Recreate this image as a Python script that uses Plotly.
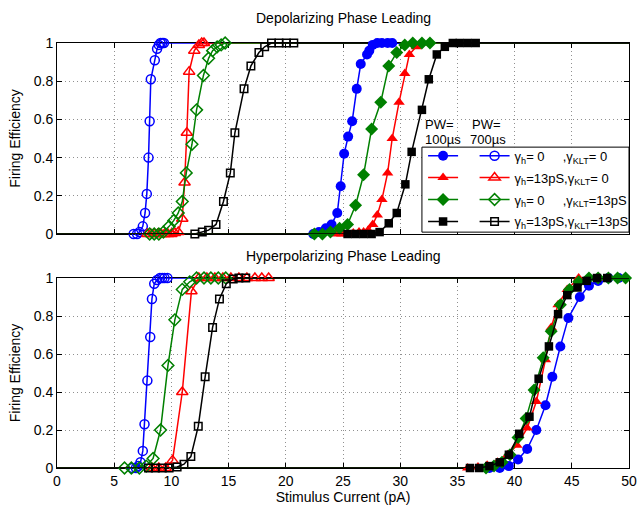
import plotly.graph_objects as go

X_MIN, X_MAX = 0, 50

# ---------------- Depolarizing Phase Leading (top) ----------------
# PW = 700 us (open markers)
dep700_blue_x = [6.7, 7.0, 7.2, 7.5, 7.7, 7.85, 8.0, 8.1, 8.2, 8.55, 8.75, 8.9, 9.05, 9.2, 9.35]
dep700_blue_y = [0, 0, 0.01, 0.04, 0.11, 0.21, 0.40, 0.59, 0.81, 0.91, 0.97, 0.99, 1, 1, 1]
dep700_red_x = [7.9, 8.2, 8.5, 8.8, 9.1, 9.4, 9.7, 10.0, 10.3, 10.6, 10.95, 11.15, 11.35, 11.55, 12.0, 12.4, 12.65, 12.85]
dep700_red_y = [0, 0, 0, 0, 0, 0, 0, 0, 0.005, 0.01, 0.08, 0.27, 0.53, 0.85, 0.96, 0.99, 1, 1]
dep700_green_x = [8.1, 8.5, 8.9, 9.3, 9.8, 10.2, 10.6, 10.95, 11.3, 11.8, 12.2, 12.8, 13.25, 13.6, 14.0, 14.35, 14.7]
dep700_green_y = [0, 0, 0, 0.01, 0.04, 0.07, 0.11, 0.17, 0.32, 0.47, 0.65, 0.83, 0.92, 0.96, 0.98, 0.99, 1]
dep700_black_x = [12.05, 12.7, 13.25, 13.9, 14.55, 15.15, 15.55, 16.35, 16.95, 17.65, 18.15, 18.75, 19.4, 20.05, 20.7]
dep700_black_y = [0, 0.01, 0.02, 0.05, 0.17, 0.32, 0.53, 0.76, 0.88, 0.95, 0.98, 1, 1, 1, 1]
# PW = 100 us (filled markers)
dep100_blue_x = [22.4, 22.9, 23.5, 24.0, 24.5, 24.8, 25.1, 25.45, 25.8, 26.2, 26.55, 27.1, 27.3, 27.6, 28.0, 28.4, 28.9, 29.3]
dep100_blue_y = [0, 0.01, 0.03, 0.05, 0.11, 0.25, 0.42, 0.51, 0.59, 0.76, 0.89, 0.94, 0.96, 0.99, 1, 1, 1, 1]
dep100_red_x = [24.4, 24.9, 25.4, 25.9, 26.4, 26.8, 27.2, 27.6, 28.0, 28.4, 28.9, 29.3, 29.9, 30.4, 30.8, 31.4, 31.9]
dep100_red_y = [0, 0, 0, 0.005, 0.01, 0.01, 0.02, 0.05, 0.10, 0.18, 0.32, 0.50, 0.69, 0.84, 0.94, 0.98, 1]
dep100_green_x = [22.5, 23.2, 23.9, 24.7, 25.4, 26.1, 26.8, 27.5, 28.3, 29.0, 29.7, 30.4, 31.1, 31.9, 32.6]
dep100_green_y = [0, 0, 0.01, 0.03, 0.05, 0.15, 0.31, 0.55, 0.69, 0.88, 0.95, 0.99, 1, 1, 1]
dep100_black_x = [25.4, 26.1, 26.8, 27.5, 28.2, 29.0, 29.7, 30.45, 31.0, 31.9, 32.5, 33.2, 33.9, 34.6, 35.2, 35.9, 36.6]
dep100_black_y = [0, 0, 0, 0, 0.01, 0.056, 0.11, 0.26, 0.43, 0.65, 0.81, 0.94, 0.98, 1, 1, 1, 1]

# ---------------- Hyperpolarizing Phase Leading (bottom) ----------------
hyp700_blue_x = [6.6, 6.9, 7.1, 7.3, 7.5, 7.65, 7.9, 8.15, 8.3, 8.5, 8.75, 9.0, 9.2, 9.4, 9.65]
hyp700_blue_y = [0, 0, 0.01, 0.03, 0.09, 0.23, 0.46, 0.69, 0.89, 0.97, 0.99, 1, 1, 1, 1]
hyp700_red_x = [8.3, 8.9, 9.5, 10.1, 10.95, 11.75, 12.4, 13.1, 13.8, 14.5, 15.2, 15.9, 16.6, 17.3, 17.9, 18.5]
hyp700_red_y = [0, 0, 0, 0.04, 0.40, 0.93, 1, 1, 1, 1, 1, 1, 1, 1, 1, 1]
hyp700_green_x = [5.9, 6.5, 7.2, 7.8, 8.4, 9.05, 9.7, 10.3, 10.95, 11.6, 12.2, 12.85, 13.45, 14.1, 14.75]
hyp700_green_y = [0, 0, 0, 0.01, 0.05, 0.20, 0.54, 0.78, 0.94, 0.98, 1, 1, 1, 1, 1]
hyp700_black_x = [8.0, 8.6, 9.2, 9.8, 10.5, 11.1, 11.7, 12.35, 12.95, 13.6, 14.2, 14.8, 15.4, 15.9, 16.5]
hyp700_black_y = [0, 0, 0, 0, 0.005, 0.02, 0.06, 0.22, 0.48, 0.74, 0.89, 0.97, 0.995, 1, 1]
hyp100_blue_x = [37.8, 38.7, 39.5, 40.3, 41.1, 41.9, 42.7, 43.3, 44.0, 44.7, 45.7, 46.5, 47.3, 48.2, 49.1]
hyp100_blue_y = [0, 0, 0.01, 0.045, 0.10, 0.20, 0.33, 0.48, 0.64, 0.79, 0.90, 0.96, 0.985, 1, 1]
hyp100_red_x = [35.9, 36.8, 37.6, 38.5, 39.4, 40.2, 41.1, 41.9, 42.7, 43.2, 43.8, 44.6, 45.6, 46.5, 47.4]
hyp100_red_y = [0, 0.005, 0.015, 0.03, 0.07, 0.12, 0.21, 0.35, 0.57, 0.74, 0.86, 0.94, 1, 1, 1]
hyp100_green_x = [37.5, 38.2, 38.9, 39.6, 40.3, 41.0, 41.7, 42.5, 43.2, 44.0, 44.8, 45.6, 46.5, 47.3, 48.2, 49.0, 49.7]
hyp100_green_y = [0, 0.01, 0.03, 0.07, 0.16, 0.26, 0.41, 0.58, 0.72, 0.86, 0.94, 0.98, 1, 1, 1, 1, 1]
hyp100_black_x = [36.1, 36.9, 37.8, 38.7, 39.5, 40.4, 41.3, 42.1, 43.0, 43.8, 44.6, 45.5, 46.3, 47.2, 48.1]
hyp100_black_y = [0, 0, 0.01, 0.03, 0.07, 0.18, 0.27, 0.47, 0.64, 0.81, 0.91, 0.95, 0.985, 1, 1]

x_ticks = [0, 5, 10, 15, 20, 25, 30, 35, 40, 45, 50]
y_ticks = [0, 0.2, 0.4, 0.6, 0.8, 1]

NB = "\u00a0"
series_labels = [
    "γ<sub>h</sub>= 0" + NB * 5 + ",γ<sub>KLT</sub>= 0",
    "γ<sub>h</sub>=13pS,γ<sub>KLT</sub>= 0",
    "γ<sub>h</sub>= 0" + NB * 5 + ",γ<sub>KLT</sub>=13pS",
    "γ<sub>h</sub>=13pS,γ<sub>KLT</sub>=13pS",
]
colors = ["#0000ff", "#ff0000", "#008000", "#000000"]
symbols = ["circle", "triangle-up", "diamond", "square"]
filled_sizes = [10, 10, 10, 8.5]
open_sizes = [9, 10, 9, 7.5]

FONT = "Liberation Sans, Arial, Helvetica, sans-serif"

panels = [
    ("x", "y", [
        (dep700_blue_x, dep700_blue_y), (dep700_red_x, dep700_red_y),
        (dep700_green_x, dep700_green_y), (dep700_black_x, dep700_black_y)],
     [(dep100_blue_x, dep100_blue_y), (dep100_red_x, dep100_red_y),
      (dep100_green_x, dep100_green_y), (dep100_black_x, dep100_black_y)]),
    ("x2", "y2", [
        (hyp700_blue_x, hyp700_blue_y), (hyp700_red_x, hyp700_red_y),
        (hyp700_green_x, hyp700_green_y), (hyp700_black_x, hyp700_black_y)],
     [(hyp100_blue_x, hyp100_blue_y), (hyp100_red_x, hyp100_red_y),
      (hyp100_green_x, hyp100_green_y), (hyp100_black_x, hyp100_black_y)]),
]

fig = go.Figure()
for p_i, (xa, ya, open_set, filled_set) in enumerate(panels):
    for filled, sset in ((False, open_set), (True, filled_set)):
        for i, (xs, ys) in enumerate(sset):
            c = colors[i]
            # line continuation beyond the sampled points
            fig.add_trace(go.Scatter(
                x=[X_MIN, xs[0], None, xs[-1], X_MAX],
                y=[ys[0], ys[0], None, ys[-1], ys[-1]],
                mode="lines", line=dict(color=c, width=1.5),
                xaxis=xa, yaxis=ya, showlegend=False, hoverinfo="skip",
                cliponaxis=False))
            sym = symbols[i] if filled else symbols[i] + "-open"
            sz = filled_sizes[i] if filled else open_sizes[i]
            fig.add_trace(go.Scatter(
                x=xs, y=ys, mode="lines+markers",
                line=dict(color=c, width=1.5),
                marker=dict(symbol=sym, size=sz, color=c,
                            line=dict(color=c, width=1.5 if not filled else 0)),
                xaxis=xa, yaxis=ya, cliponaxis=False,
                # filled (PW=100us) symbols form the first legend column,
                # the shared row label is shown once, next to the open symbols
                name=NB if filled else series_labels[i],
                legend="legend" if filled else "legend2",
                legendgroup=("f" if filled else "o") + str(i),
                showlegend=(p_i == 0)))

axis_common = dict(
    showline=True, linecolor="black", linewidth=1, mirror="ticks",
    ticks="inside", ticklen=5, tickcolor="black", tickwidth=1,
    showgrid=True, gridcolor="#909090", griddash="1px,3px", gridwidth=1,
    zeroline=False, layer="below traces", automargin=False,
    tickfont=dict(family=FONT, size=14, color="black"),
)

pw_font = dict(size=13)

fig.update_layout(
    width=643, height=506,
    margin=dict(l=57, r=9, t=43, b=38),
    plot_bgcolor="white", paper_bgcolor="white",
    font=dict(family=FONT, size=14, color="black"),
    xaxis=dict(domain=[0, 1], anchor="y", range=[X_MIN, X_MAX], tickvals=x_ticks,
               showticklabels=False, **axis_common),
    yaxis=dict(domain=[0.5506, 1], anchor="x", range=[0, 1], tickvals=y_ticks,
               title=dict(text="Firing Efficiency", font=dict(size=14), standoff=9),
               **axis_common),
    xaxis2=dict(domain=[0, 1], anchor="y2", range=[X_MIN, X_MAX], tickvals=x_ticks,
                title=dict(text="Stimulus Current (pA)", font=dict(size=14), standoff=4),
                **axis_common),
    yaxis2=dict(domain=[0, 0.447], anchor="x2", range=[0, 1], tickvals=y_ticks,
                title=dict(text="Firing Efficiency", font=dict(size=14), standoff=9),
                **axis_common),
    legend=dict(x=0.640, y=0.770, xanchor="left", yanchor="top",
                bgcolor="rgba(0,0,0,0)", borderwidth=0,
                font=dict(family=FONT, size=13, color="black"),
                tracegroupgap=2, itemclick=False),
    legend2=dict(x=1.008, y=0.770, xanchor="right", yanchor="top",
                 bgcolor="rgba(0,0,0,0)", borderwidth=0,
                 font=dict(family=FONT, size=13, color="black"),
                 tracegroupgap=2, itemclick=False),
    shapes=[dict(type="rect", xref="paper", yref="paper",
                 x0=0.638, x1=1.0, y0=0.555, y1=0.755,
                 fillcolor="white", line=dict(color="black", width=1),
                 layer="above")],
    annotations=[
        dict(text="Depolarizing Phase Leading", xref="paper", yref="paper",
             x=0.5, y=1.0588, xanchor="center", yanchor="middle", showarrow=False,
             font=dict(size=14)),
        dict(text="Hyperpolarizing Phase Leading", xref="paper", yref="paper",
             x=0.5, y=0.4988, xanchor="center", yanchor="middle", showarrow=False,
             font=dict(size=14)),
        dict(text="PW=", xref="paper", yref="paper", x=0.6412, y=0.8094,
             xanchor="left", yanchor="middle", showarrow=False, font=pw_font, borderpad=0),
        dict(text="100µs", xref="paper", yref="paper", x=0.6412, y=0.7718,
             xanchor="left", yanchor="middle", showarrow=False, font=pw_font, borderpad=0),
        dict(text="PW=", xref="paper", yref="paper", x=0.7230, y=0.8094,
             xanchor="left", yanchor="middle", showarrow=False, font=pw_font, borderpad=0),
        dict(text="700µs", xref="paper", yref="paper", x=0.7195, y=0.7718,
             xanchor="left", yanchor="middle", showarrow=False, font=pw_font, borderpad=0),
    ],
)

fig.write_html("out.html",
               config={"displayModeBar": False},
               post_script="document.body.style.margin='0px';")
